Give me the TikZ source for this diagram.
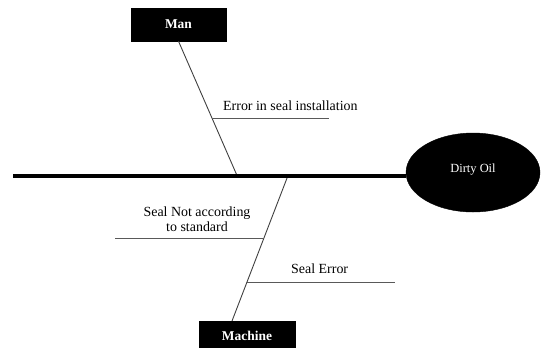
\documentclass[tikz,border=0pt]{standalone}
\usepackage{fontspec}
\setmainfont{Liberation Serif}
\usetikzlibrary{shapes.geometric}
\begin{document}
\begin{tikzpicture}[x=1bp,y=-1bp,
  catbox/.style={fill=black,draw=black,text=white,inner sep=0,font=\fontsize{13.5}{15}\selectfont\bfseries},
  effect/.style={ellipse,fill=black,draw=black,text=white,inner sep=0,minimum width=134bp,minimum height=79bp,font=\fontsize{12.5}{14}\selectfont},
  spine/.style={line width=4bp,black},
  bone/.style={line width=0.9bp,black!75},
  sub/.style={line width=0.9bp,black!65},
  lbl/.style={inner sep=0,font=\fontsize{14}{15}\selectfont}]
\useasboundingbox (0,0) rectangle (541,347);
\clip (0,0) rectangle (541,347);
% nodes
\node[catbox,minimum width=95bp,minimum height=33bp] (man) at (178.5,24.5) {Man};
\node[catbox,minimum width=96bp,minimum height=29bp] (machine) at (247,335.5) {Machine};
\node[effect,text depth=9.5bp] (oil) at (473,172.5) {Dirty Oil};
% coordinates
\coordinate (sp) at (13,175.5);
\coordinate (mj) at (237,175.5);
\coordinate (mt) at (288,175.5);
\coordinate (mb) at (232,321);
\coordinate (e1) at (212,118);
\coordinate (e1e) at (329,118);
\coordinate (s1) at (264,238);
\coordinate (s1e) at (115,238);
\coordinate (s2) at (247,282);
\coordinate (s2e) at (395,282);
% bones
\draw[bone] (man.south) -- (mj);
\draw[bone] (mt) -- (mb);
\draw[sub] (e1) -- (e1e);
\draw[sub] (s1) -- (s1e);
\draw[sub] (s2) -- (s2e);
\draw[spine] (sp) -- (sp -| oil.west);
% labels
\node[lbl,anchor=base west] (t1) at (223,110) {Error in seal installation};
\node[lbl,align=center,anchor=south] (t2) at (197,232) {Seal Not according\\to standard};
\node[lbl,anchor=base west] (t3) at (291,273) {Seal Error};
\end{tikzpicture}
\end{document}
